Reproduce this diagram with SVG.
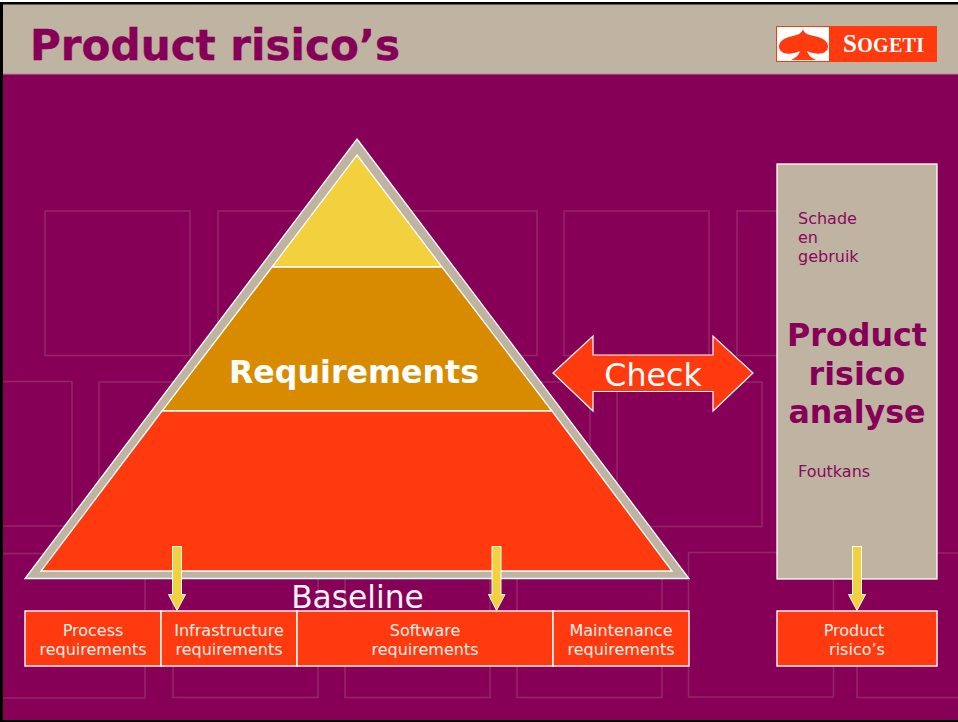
<svg xmlns="http://www.w3.org/2000/svg" width="958" height="722" viewBox="0 0 958 722">
<style>
text{font-family:"DejaVu Sans",Verdana,sans-serif}
.bg{fill:none;stroke:#9b3a72;stroke-width:1.5;opacity:.65}
.w{stroke:#fff;stroke-width:1.3}
.lab{fill:#fff;font-size:16px;text-anchor:middle;opacity:.92}
.side{fill:#870058;font-size:16px;opacity:.95}
.big{fill:#870058;font-size:31.700px;font-weight:bold;text-anchor:middle}
.yarrow{fill:#f3d03e;stroke:#fff;stroke-width:1}
.box{fill:#ff3a0e;stroke:#fff;stroke-width:1.4}
</style>
<rect width="958" height="722" fill="#870058"/>
<g id="background-grid">
<rect class="bg" x="45" y="211" width="145" height="144.500"/>
<rect class="bg" x="218" y="211" width="145" height="144.500"/>
<rect class="bg" x="392" y="211" width="145" height="144.500"/>
<rect class="bg" x="564" y="211" width="145" height="144.500"/>
<rect class="bg" x="737" y="211" width="145" height="144.500"/>
<rect class="bg" x="-73" y="381.500" width="145" height="144.500"/>
<rect class="bg" x="99" y="382" width="145" height="144.500"/>
<rect class="bg" x="272" y="382" width="145" height="144.500"/>
<rect class="bg" x="445" y="382" width="145" height="144.500"/>
<rect class="bg" x="617" y="382" width="145" height="144.500"/>
<rect class="bg" x="0" y="553.500" width="145" height="144.500"/>
<rect class="bg" x="173" y="553" width="145" height="144.500"/>
<rect class="bg" x="345" y="553" width="145" height="144.500"/>
<rect class="bg" x="517" y="553" width="145" height="144.500"/>
<rect class="bg" x="688.500" y="552.500" width="145" height="144.500"/>
<rect class="bg" x="857" y="553" width="145" height="144.500"/>
</g>
<g id="header">
<rect x="2" y="4" width="956" height="70" fill="#bfb3a1"/>
<rect x="2" y="73.500" width="956" height="1" fill="#a68f96"/>
<text x="30" y="60" font-size="42.100" font-weight="bold" fill="#870058" stroke="#870058" stroke-width=".4">Product risico’s</text>
</g>
<g id="logo">
<rect x="776" y="26" width="161" height="36" fill="#ff3a0e"/>
<rect x="777" y="27" width="52" height="34" fill="#fff"/>
<path d="M803 29C804 33 808 35 814 36C822 37.500 828 41 828 46.500C828 52 822 54.500 816 53.500C812 53 809 52 807 51C808 55 811 58 816 60L791 60C796 58 799 55 800 51C798 52 795 53 791 53.500C785 54.500 779 52 779 46.500C779 41 785 37.500 793 36C798 35 802 33 803 29Z" fill="#ff3a0e"/>
<text x="843" y="52" font-weight="bold" font-size="25" letter-spacing=".3" fill="#fff" style="font-family:'Liberation Serif',serif">S<tspan font-size="20">OGETI</tspan></text>
</g>
<g id="pyramid">
<path d="M357 139L689 578.500L25 578.500Z" fill="#bfb3a1" stroke="#fff" stroke-width="1.300"/>
<path id="tier-top" class="w" d="M357 155L442 267L272 267Z" fill="#f3d03e"/>
<path id="tier-middle" class="w" d="M272 267L442 267L552 411L162 411Z" fill="#d98b00"/>
<path id="tier-bottom" class="w" d="M162 411L552 411L672 571L41 571Z" fill="#ff3a0e"/>
<text x="354" y="383" font-size="31.700" font-weight="bold" fill="#fff" text-anchor="middle">Requirements</text>
</g>
<g id="baseline"><text x="357.500" y="608" font-size="31.300" fill="#fff" text-anchor="middle" opacity=".95">Baseline</text></g>
<g id="check">
<path d="M553 373L593 336L593 355L713 355L713 336L753 373L713 411L713 391.500L593 391.500L593 411Z" fill="#ff3a0e" stroke="#fff" stroke-width="1.200"/>
<text x="653" y="386" font-size="31.700" fill="#fff" text-anchor="middle">Check</text>
</g>
<g id="analysis">
<rect x="777" y="164" width="160" height="415" fill="#bfb3a1" stroke="#fff" stroke-width="1.300"/>
<text class="side" x="798" y="224">Schade</text>
<text class="side" x="798" y="243">en</text>
<text class="side" x="798" y="262">gebruik</text>
<text class="big" x="857" y="346">Product</text>
<text class="big" x="857" y="385">risico</text>
<text class="big" x="857" y="423">analyse</text>
<text class="side" x="798" y="477">Foutkans</text>
</g>
<g id="process-requirements"><rect class="box" x="25" y="611" width="136" height="55"/><text class="lab" x="93" y="636">Process</text><text class="lab" x="93" y="655">requirements</text></g>
<g id="infrastructure-requirements"><rect class="box" x="161" y="611" width="136" height="55"/><text class="lab" x="229" y="636">Infrastructure</text><text class="lab" x="229" y="655">requirements</text></g>
<g id="software-requirements"><rect class="box" x="297" y="611" width="256" height="55"/><text class="lab" x="425" y="636">Software</text><text class="lab" x="425" y="655">requirements</text></g>
<g id="maintenance-requirements"><rect class="box" x="553" y="611" width="136" height="55"/><text class="lab" x="621" y="636">Maintenance</text><text class="lab" x="621" y="655">requirements</text></g>
<g id="product-risicos"><rect class="box" x="777" y="611" width="160" height="55"/><text class="lab" x="854" y="636">Product</text><text class="lab" x="857" y="655">risico’s</text></g>
<g id="connectors">
<path class="yarrow" d="M172.500 546.500L181.500 546.500L181.500 594.500L185.500 594.500L177 610.500L168.500 594.500L172.500 594.500Z"/>
<path class="yarrow" d="M492 546.500L501 546.500L501 594.500L505 594.500L496.500 610.500L488.500 594.500L492 594.500Z"/>
<path class="yarrow" d="M852.500 546.500L861.500 546.500L861.500 594.500L865.500 594.500L857 610.500L848.500 594.500L852.500 594.500Z"/>
</g>
<g id="frame" fill="#000">
<rect x="0" y="0" width="958" height="2" fill="#fff"/>
<rect x="0" y="2" width="958" height="2.500"/>
<rect x="0" y="2" width="3" height="720"/>
<rect x="0" y="720" width="958" height="2"/>
</g>
</svg>
